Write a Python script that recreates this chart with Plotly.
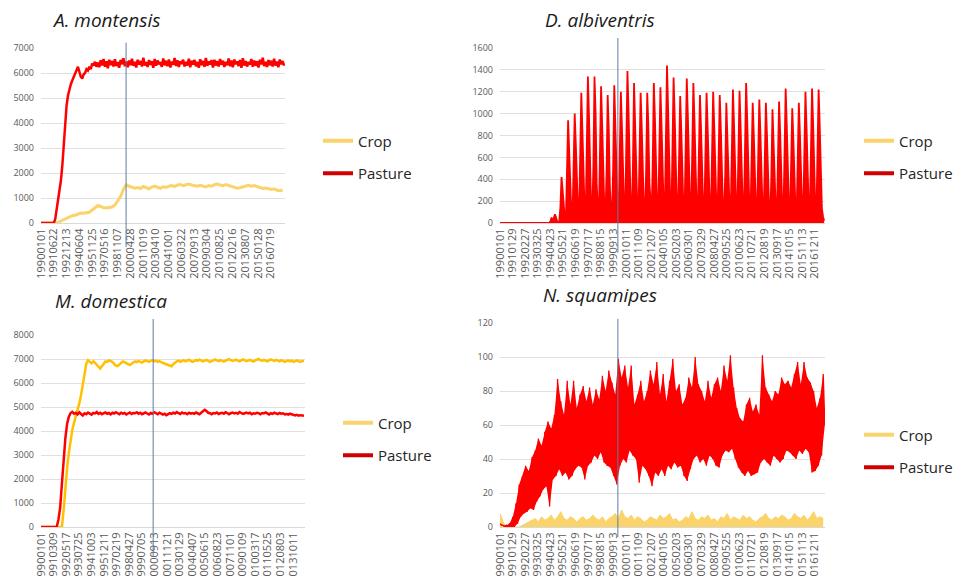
import pandas as pd
import plotly.graph_objects as go

START = pd.Timestamp("1990-01-01")

# ---------------- A. montensis ----------------
a_ticks = ["19900101", "19910622", "19921213", "19940604", "19951125", "19970516",
           "19981107", "20000428", "20011019", "20030410", "20041001", "20060322",
           "20070913", "20090304", "20100825", "20120216", "20130807", "20150128",
           "20160719"]
# pasture, one reading every 60 days
a_pasture = [0, 0, 0, 0, 0, 0, 0, 0, 0, 0,
             150, 500, 900, 1300, 1700, 2300, 3200, 4100, 4700, 5100,
             5350, 5550, 5700, 5850, 5950, 6150, 6250, 6050, 5850, 5780,
             5950, 6000, 6150, 6100, 6250, 6150, 6380, 6300, 6450, 6250,
             6420, 6230, 6510, 6300, 6560, 6250, 6470, 6190, 6530, 6320, 6480, 6260,
             6550, 6280, 6440, 6210, 6520, 6350, 6590, 6270, 6460, 6230, 6500, 6310,
             6570, 6290, 6450, 6220, 6530, 6340, 6480, 6260, 6610, 6300, 6440, 6240,
             6520, 6330, 6470, 6210, 6560, 6290, 6500, 6350, 6430, 6250, 6580, 6310,
             6490, 6270, 6540, 6220, 6460, 6330, 6600, 6280, 6510, 6240, 6470, 6360,
             6530, 6260, 6450, 6300, 6570, 6230, 6490, 6340, 6520, 6270, 6440, 6210,
             6550, 6320, 6480, 6250, 6600, 6290, 6460, 6340, 6510, 6220, 6530, 6300,
             6470, 6260, 6560, 6330, 6490, 6240, 6450, 6310, 6580, 6270, 6500, 6230,
             6540, 6350, 6460, 6280, 6520, 6210, 6590, 6300, 6480, 6260, 6440, 6330,
             6560, 6250, 6500, 6290, 6470, 6220, 6530, 6340, 6610, 6280, 6450, 6240,
             6520, 6310, 6490, 6260, 6570, 6300, 6460, 6230, 6540, 6350, 6480, 6290]
# crop, one reading every 120 days
a_crop = [0, 0, 0, 0, 0, 0,
          20, 80, 130, 190, 250, 290, 310, 360, 400, 390,
          410, 430, 520, 620, 700, 660, 610, 600, 620, 640,
          720, 880, 1060, 1350, 1530, 1470, 1430,
          1390, 1420, 1380, 1460, 1410, 1370, 1440, 1480, 1430, 1390, 1450, 1420,
          1470, 1500, 1460, 1520, 1540, 1490, 1530, 1560, 1520, 1500, 1470, 1510,
          1480, 1440, 1500, 1470, 1530, 1560, 1520, 1490, 1540, 1510, 1470, 1430,
          1390, 1410, 1450, 1480, 1510, 1470, 1500, 1460, 1420, 1380, 1400, 1360,
          1340, 1370, 1310, 1290, 1320]

# ---------------- D. albiventris ----------------
dn_ticks = ["19900101", "19910129", "19920227", "19930325", "19940423", "19950521",
            "19960619", "19970717", "19980815", "19990913", "20001011", "20011109",
            "20021207", "20040105", "20050203", "20060301", "20070329", "20080427",
            "20090525", "20100623", "20110721", "20120819", "20130917", "20141015",
            "20151113", "20161211"]
# pasture, one reading every 824 hours
d_pasture = [0, 0, 0, 0, 0, 0, 0, 0, 0, 0, 0, 0, 0, 0, 0, 0,
             0, 0, 0, 0, 0, 0, 0, 0, 0, 0, 0, 0, 0, 0, 0, 0,
             0, 0, 0, 0, 0, 0, 0, 0, 0, 0, 0, 0, 0, 0, 20, 50,
             10, 40, 80, 50, 15, 5,
             20, 150, 420, 300, 120, 40,
             40, 380, 940, 650, 260, 90,
             50, 420, 1000, 720, 300, 110,
             60, 480, 1190, 850, 330, 120,
             70, 560, 1340, 980, 380, 130,
             80, 520, 1340, 1010, 360, 140,
             70, 540, 1250, 900, 400, 120,
             60, 470, 1170, 860, 330, 110,
             80, 510, 1260, 940, 420, 150,
             70, 560, 1200, 870, 350, 120,
             90, 600, 1390, 1020, 410, 140,
             70, 520, 1280, 930, 380, 130,
             60, 500, 1190, 880, 340, 110,
             80, 470, 1190, 900, 360, 140,
             70, 540, 1280, 960, 390, 120,
             60, 500, 1240, 900, 350, 130,
             90, 620, 1440, 1050, 420, 150,
             70, 560, 1330, 980, 380, 120,
             60, 480, 1160, 850, 330, 110,
             80, 550, 1320, 970, 400, 140,
             70, 530, 1280, 940, 370, 130,
             60, 490, 1170, 860, 340, 110,
             80, 500, 1190, 880, 350, 120,
             70, 520, 1200, 890, 360, 130,
             60, 480, 1170, 860, 330, 110,
             70, 450, 1100, 800, 320, 120,
             80, 510, 1220, 900, 370, 140,
             70, 500, 1210, 890, 350, 120,
             80, 540, 1280, 950, 380, 130,
             60, 460, 1100, 810, 320, 110,
             70, 470, 1130, 830, 340, 120,
             60, 450, 1100, 800, 310, 110,
             70, 430, 1040, 760, 300, 120,
             60, 460, 1110, 820, 330, 110,
             80, 520, 1230, 900, 360, 130,
             60, 440, 1050, 770, 300, 110,
             70, 460, 1100, 810, 330, 120,
             80, 500, 1200, 880, 350, 130,
             70, 520, 1230, 910, 370, 120,
             80, 510, 1220, 890, 360, 130,
             60, 20]
# crop, one reading every 2472 hours
d_crop = [0, 0, 0, 0, 0, 0, 0, 0, 0, 0, 0, 0, 0, 0, 0, 0,
          0, 20, 5, 60, 10, 150, 15, 200, 20, 180, 20, 260, 10, 220, 20, 240,
          10, 280, 20, 210, 10, 190, 20, 250, 10, 230, 20, 200, 10, 270, 20, 220,
          10, 240, 20, 180, 10, 260, 20, 230, 10, 200, 20, 250, 10, 220, 20, 280,
          10, 190, 20, 240, 10, 210, 20, 260, 10, 230, 20, 180, 10, 250, 20, 220,
          10, 200, 20, 240, 10, 270, 20, 210, 10, 230, 20, 250, 10, 220, 20, 200,
          10, 60, 5]

# ---------------- M. domestica ----------------
m_ticks = ["19900101", "19910309", "19920517", "19930725", "19941003", "19951211",
           "19970219", "19980427", "19990705", "20000913", "20011121", "20030129",
           "20040407", "20050615", "20060823", "20071101", "20090109", "20100317",
           "20110525", "20120803", "20131011"]
# both series, one reading every 60 days
m_pasture = [0, 0, 0, 0, 0, 0, 0, 0, 0, 0,
             300, 800, 1800, 2900, 3700, 4300, 4600, 4750, 4800,
             4720, 4760, 4690, 4780, 4710, 4650, 4740, 4700, 4770, 4720, 4680, 4750,
             4730, 4790, 4710, 4760, 4700, 4740, 4770, 4720, 4750, 4690, 4760, 4730,
             4780, 4740, 4700, 4760, 4720, 4750, 4690, 4730, 4770, 4710, 4750, 4740,
             4780, 4720, 4760, 4700, 4740, 4770, 4730, 4690, 4750, 4720, 4780, 4740,
             4700, 4760, 4730, 4680, 4720, 4660, 4700, 4740, 4710, 4760, 4730, 4790,
             4740, 4710, 4770, 4730, 4750, 4700, 4760, 4720,
             4750, 4720, 4770, 4740, 4700, 4760, 4810, 4880, 4830, 4760, 4740, 4700,
             4750, 4730, 4770, 4710, 4740, 4760, 4720, 4780, 4750, 4700, 4740, 4770,
             4730, 4760, 4720, 4790, 4750, 4710, 4740, 4770, 4730, 4760, 4700, 4740,
             4720, 4760, 4740, 4700, 4750, 4730, 4770, 4720, 4690, 4740, 4710, 4760,
             4730, 4700, 4750, 4720, 4740, 4690, 4710, 4680, 4720, 4690, 4660, 4650,
             4670, 4640, 4660, 4650, 4640]
m_crop = [0, 0, 0, 0, 0, 0, 0, 0, 0, 0, 0, 0, 0,
          700, 1650, 2450, 3100, 3650, 4050, 4350, 4600, 4850, 5150, 5500, 5900,
          6350, 6800, 6950,
          6880, 6820, 6900, 6850, 6760, 6680, 6600, 6700, 6820, 6900, 6880, 6940,
          6920, 6880, 6800, 6720, 6700, 6780, 6850, 6900, 6870, 6820, 6780, 6750,
          6800, 6860, 6900, 6870, 6920, 6880, 6850, 6900, 6940, 6910, 6880, 6920,
          6950, 6900, 6930, 6880, 6910, 6870, 6850, 6820, 6780, 6750, 6720, 6700,
          6780, 6850, 6900, 6930, 6880, 6920, 6950, 6900, 6940, 6970, 6920, 6880,
          6910, 6950, 6930, 6970, 6940, 6900, 6930, 6960, 6920, 6880, 6910, 6950,
          6980, 6940, 6910, 6950, 6920, 6890, 6930, 6960, 6990, 6950, 6920, 6940,
          6970, 6930, 6900, 6940, 6980, 6950, 6910, 6930, 6960, 6920, 6890, 6940,
          6970, 7000, 6950, 6920, 6960, 6930, 6900, 6940, 6980, 6950, 6920, 6960,
          6930, 6900, 6950, 6920, 6880, 6910, 6940, 6900, 6930, 6880, 6910, 6940,
          6900, 6880, 6920, 6900]

# ---------------- N. squamipes ----------------
# pasture swings between a high and a low reading; one pair every 100 days
n_hi = [2, 1, 1, 2, 6, 14, 25, 30, 36, 33, 41, 45, 52, 48, 56, 62, 58, 66, 87, 74,
        66, 86, 72, 86, 70, 78, 83, 74, 82, 72, 81, 75, 89, 80, 92, 85, 78, 99, 88, 95,
        82, 95, 72, 78, 86, 74, 80, 92, 84, 97, 78, 90, 74, 86, 99, 80, 84, 72, 76, 88,
        82, 100, 84, 80, 74, 86, 76, 84, 88, 80, 95, 86, 101, 82, 70, 64, 62, 72, 76, 68,
        72, 66, 101, 82, 78, 74, 80, 78, 88, 84, 86, 82, 90, 97, 84, 97, 88, 85, 80, 70,
        76, 90]
n_lo = [1, 0, 0, 0, 0, 2, 6, 8, 9, 11, 10, 15, 18, 22, 24, 12, 28, 30, 34, 30,
        32, 28, 30, 34, 36, 35, 28, 36, 38, 42, 40, 44, 38, 36, 35, 30, 25, 36, 40, 38,
        45, 42, 40, 26, 36, 34, 30, 24, 32, 30, 34, 30, 36, 34, 38, 35, 36, 30, 27, 34,
        40, 42, 38, 40, 36, 42, 40, 36, 35, 42, 45, 44, 46, 40, 35, 32, 30, 33, 30, 31,
        32, 38, 40, 38, 36, 42, 40, 38, 40, 45, 44, 42, 40, 45, 43, 46, 44, 32, 33, 36,
        42, 60]
# crop, one reading every 100 days
n_crop = [8, 3, 0, 0, 0, 0, 0, 1, 2, 3,
          4, 5, 3, 6, 4, 5, 7, 4, 6, 9, 5, 4, 6, 5, 3, 5, 6, 4, 5, 7,
          5, 4, 6, 3, 5, 6, 8, 5, 10, 6, 5, 7, 4, 6, 5, 3, 4, 6, 5, 4,
          7, 5, 6, 8, 4, 5, 3, 4, 6, 5, 9, 5, 4, 6, 5, 7, 4, 5, 3, 6,
          5, 8, 4, 6, 5, 4, 7, 5, 6, 4, 3, 5, 6, 8, 5, 4, 6, 5, 7, 6,
          4, 5, 8, 6, 5, 7, 4, 6, 9, 5, 6, 5]

RED = "#FF0000"
DARKRED = "#D00000"
YEL = "#FAD46B"
ORG = "#FFC000"
VLINE = "#5C7CA3"


def dates(n, freq, offset="0D"):
    return pd.date_range(START + pd.Timedelta(offset), periods=n, freq=freq)


n_x = dates(2 * len(n_hi), "50D")
n_pasture = [v for pair in zip(n_hi, n_lo) for v in pair]

fig = go.Figure()

# data traces: (axis index, x, y, colour, width, fill)
series = [
    (1, dates(len(a_crop), "120D"), a_crop, YEL, 3, None),
    (1, dates(len(a_pasture), "60D"), a_pasture, RED, 2.5, None),
    (2, dates(len(d_crop), "2472h"), d_crop, YEL, 1.5, None),
    (2, dates(len(d_pasture), "824h"), d_pasture, RED, 1.8, "tozeroy"),
    (3, dates(len(m_crop), "60D"), m_crop, ORG, 2.5, None),
    (3, dates(len(m_pasture), "60D"), m_pasture, RED, 2.5, None),
    (4, dates(len(n_crop), "100D"), n_crop, YEL, 1, "tozeroy"),
    # low and high readings as a filled band, then the swings on top
    (4, dates(len(n_lo), "100D", "50D"), n_lo, "rgba(0,0,0,0)", 0, None),
    (4, dates(len(n_hi), "100D"), n_hi, "rgba(0,0,0,0)", 0, "tonexty"),
    (4, n_x, n_pasture, RED, 1.3, None),
]
for k, x, y, col, w, fill in series:
    sfx = "" if k == 1 else str(k)
    fc = None
    if fill == "tonexty":
        fc = RED
    elif fill:
        fc = col
    fig.add_trace(go.Scatter(x=x, y=y, mode="lines", line=dict(color=col, width=w),
                             fill=fill, fillcolor=fc,
                             showlegend=False, hoverinfo="skip",
                             xaxis="x" + sfx, yaxis="y" + sfx))

# legend entries for each panel
for k in [1, 2, 3, 4]:
    sfx = "" if k == 1 else str(k)
    for name, col in [("Crop", YEL), ("Pasture", DARKRED)]:
        fig.add_trace(go.Scatter(x=[None], y=[None], mode="lines", name=name,
                                 line=dict(color=col, width=4),
                                 legend="legend" + sfx, legendgroup=name + sfx,
                                 xaxis="x" + sfx, yaxis="y" + sfx))

# the page puts the figure 8px in from the top-left corner
OFF = 8
W, H = 965 - OFF, 577 - OFF


def fx(p):
    return (p - OFF) / W


def fy(p):
    return 1 - (p - OFF) / H


panels = {
    1: dict(xd=[fx(41), fx(285)], yd=[fy(223), fy(48)], end=10300, ticks=a_ticks,
            yr=[0, 7000], dt=1000),
    2: dict(xd=[fx(500), fx(825)], yd=[fy(223), fy(48)], end=10156, ticks=dn_ticks,
            yr=[0, 1600], dt=200),
    3: dict(xd=[fx(41), fx(305)], yd=[fy(527), fy(335)], end=9097, ticks=m_ticks,
            yr=[0, 8000], dt=1000),
    4: dict(xd=[fx(500), fx(825)], yd=[fy(527), fy(323)], end=10156, ticks=dn_ticks,
            yr=[0, 120], dt=20),
}

tickfont = dict(family="Open Sans", size=9, color="#595959")
layout = dict(width=W, height=H, margin=dict(l=0, r=0, t=0, b=0, autoexpand=False),
              paper_bgcolor="white", plot_bgcolor="white",
              font=dict(family="Open Sans", color="#262626"))
for k, p in panels.items():
    sfx = "" if k == 1 else str(k)
    layout["xaxis" + sfx] = dict(
        domain=p["xd"], anchor="y" + sfx, type="date", automargin=False,
        range=[START, START + pd.Timedelta(days=p["end"])],
        tickvals=pd.to_datetime(p["ticks"], format="%Y%m%d"), ticktext=p["ticks"],
        tickangle=-90, tickfont=dict(family="Open Sans", size=11, color="#595959"),
        showgrid=False, showline=True, linecolor="#D9D9D9", zeroline=False)
    layout["yaxis" + sfx] = dict(
        domain=p["yd"], anchor="x" + sfx, range=p["yr"], dtick=p["dt"],
        automargin=False, tickfont=tickfont, showgrid=True, gridcolor="#E0E0E0",
        zeroline=False, ticklabelstandoff=6)

legend_pos = {1: (318, 157), 2: (859, 157), 3: (338, 439), 4: (859, 451)}
for k, (lx, ly) in legend_pos.items():
    sfx = "" if k == 1 else str(k)
    layout["legend" + sfx] = dict(x=fx(lx), y=fy(ly), xanchor="left", yanchor="middle",
                                  font=dict(family="Open Sans", size=15, color="#262626"),
                                  bgcolor="rgba(0,0,0,0)", tracegroupgap=10)
fig.update_layout(**layout)

titles = [("A. montensis", 106, 20), ("D. albiventris", 600, 20),
          ("M. domestica", 111, 301), ("N. squamipes", 600, 295)]
for text, tx, ty in titles:
    fig.add_annotation(text="<i>" + text + "</i>", x=fx(tx), y=fy(ty),
                       xref="paper", yref="paper", xanchor="center", yanchor="middle",
                       showarrow=False,
                       font=dict(family="Open Sans", size=19, color="#1A1A1A"))

# vertical marker lines
vlines = [(1, "1999-11-01", -0.137, 1.03), (2, "2000-02-01", -0.17, 1.057),
          (3, "2000-08-01", -0.156, 1.083), (4, "2000-02-01", -0.05, 1.02)]
for k, d, y0, y1 in vlines:
    sfx = "" if k == 1 else str(k)
    fig.add_shape(type="line", xref="x" + sfx, yref="y" + sfx + " domain",
                  x0=d, x1=d, y0=y0, y1=y1, line=dict(color=VLINE, width=1))

fig.write_html("out.html")
